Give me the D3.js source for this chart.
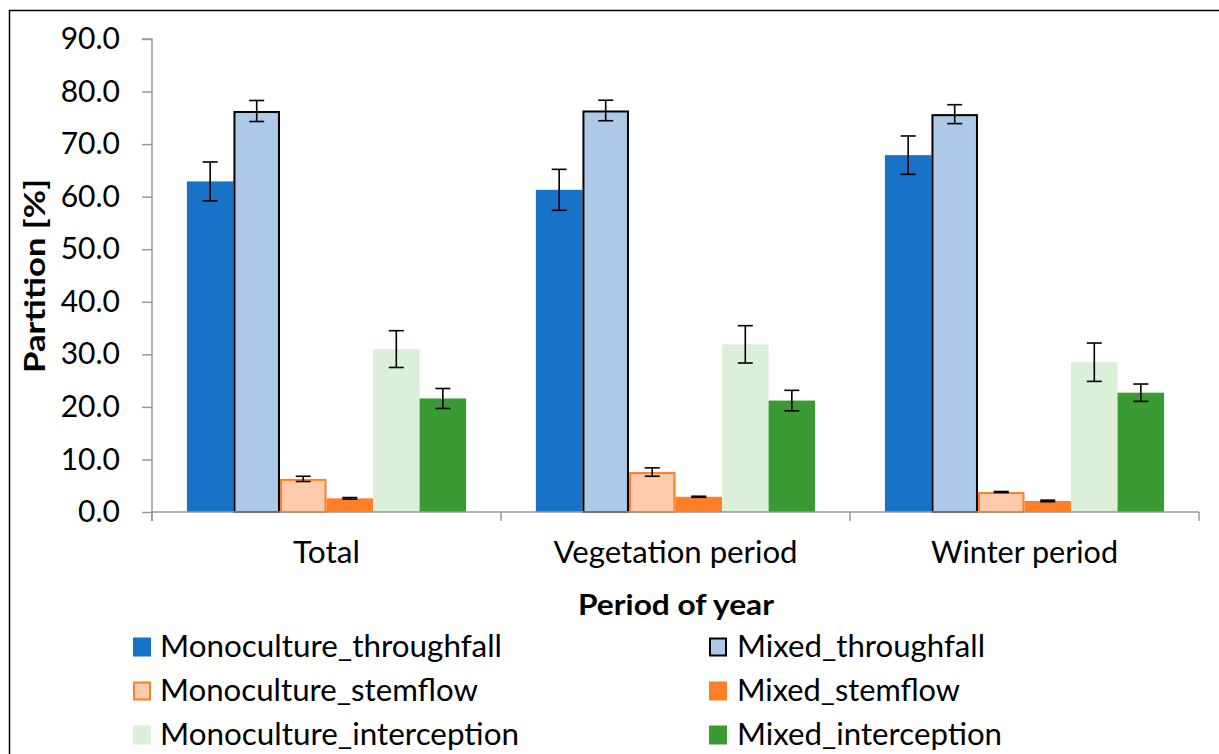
<!DOCTYPE html>
<html>
<head>
<meta charset="utf-8">
<script src="https://cdn.jsdelivr.net/npm/d3@7/dist/d3.min.js"></script>
<style>
  html, body { margin: 0; padding: 0; background: #fff; }
  svg { display: block; }
  text { font-family: Lato, "Open Sans", sans-serif; fill: #000; }
</style>
</head>
<body>
<svg id="chart" width="1219" height="754"></svg>
<script>
// Rainfall partition by period of year
const periods = ["Total", "Vegetation period", "Winter period"];
const seriesNames = [
  "Monoculture_throughfall", "Mixed_throughfall",
  "Monoculture_stemflow", "Mixed_stemflow",
  "Monoculture_interception", "Mixed_interception"
];
// mean values per series, ordered by period
const monoThroughfall = [62.9, 61.3, 67.9];
const mixedThroughfall = [76.3, 76.4, 75.7];
const monoStemflow = [6.3, 7.6, 3.8];
const mixedStemflow = [2.6, 2.9, 2.1];
const monoInterception = [31.0, 31.9, 28.5];
const mixedInterception = [21.6, 21.2, 22.7];
// error (± half-range) per series, ordered by period
const monoThroughfallErr = [3.7, 3.9, 3.65];
const mixedThroughfallErr = [2.0, 1.95, 1.8];
const monoStemflowErr = [0.5, 0.8, 0.1];
const mixedStemflowErr = [0.15, 0.1, 0.15];
const monoInterceptionErr = [3.5, 3.55, 3.65];
const mixedInterceptionErr = [1.9, 1.95, 1.65];
const yTicks = [0, 10, 20, 30, 40, 50, 60, 70, 80, 90];

const values = [monoThroughfall, mixedThroughfall, monoStemflow, mixedStemflow, monoInterception, mixedInterception];
const errors = [monoThroughfallErr, mixedThroughfallErr, monoStemflowErr, mixedStemflowErr, monoInterceptionErr, mixedInterceptionErr];

const styles = {
  "Monoculture_throughfall": { fill: "#1872C7", stroke: "none", sw: 0 },
  "Mixed_throughfall": { fill: "#AEC8E8", stroke: "#000", sw: 2 },
  "Monoculture_stemflow": { fill: "#FFCBAC", stroke: "#FF7F27", sw: 2 },
  "Mixed_stemflow": { fill: "#FF7F27", stroke: "none", sw: 0 },
  "Monoculture_interception": { fill: "#DCEFDA", stroke: "none", sw: 0 },
  "Mixed_interception": { fill: "#3A9A33", stroke: "none", sw: 0 }
};

const svg = d3.select("#chart");
const plot = { left: 152, right: 1199, top: 39, bottom: 512 };

// outer frame
svg.append("path")
  .attr("d", `M9.5,754 V10.5 H1219`)
  .attr("fill", "none").attr("stroke", "#000").attr("stroke-width", 1.5);

const x0 = d3.scaleBand().domain(periods).range([plot.left, plot.right]).padding(0);
const x1 = d3.scaleBand().domain(seriesNames).range([0, x0.bandwidth()]).paddingInner(0).paddingOuter(0.75);
const y = d3.scaleLinear().domain([0, 90]).range([plot.bottom, plot.top]);

// y axis
const yAxis = svg.append("g").attr("transform", `translate(${plot.left},0)`)
  .call(d3.axisLeft(y).tickValues(yTicks).tickSize(10).tickPadding(22).tickFormat(d3.format(".1f")));
yAxis.select(".domain").attr("stroke", "#999").attr("stroke-width", 1.5)
  .attr("d", `M-10,${plot.top}H0V${plot.bottom + 9}`);
yAxis.selectAll(".tick line").attr("stroke", "#999").attr("stroke-width", 1.5);
yAxis.selectAll(".tick text").attr("font-size", 30).attr("font-family", "Lato, sans-serif").attr("fill", "#000");

// bars
const groups = svg.append("g").selectAll("g").data(periods).join("g")
  .attr("transform", d => `translate(${x0(d)},0)`);

seriesNames.forEach((name, si) => {
  const st = styles[name];
  groups.append("rect")
    .attr("x", (d, pi) => x1(name) + st.sw / 2)
    .attr("width", x1.bandwidth() - st.sw)
    .attr("y", (d, pi) => y(values[si][pi]) + st.sw / 2)
    .attr("height", (d, pi) => y(0) - y(values[si][pi]) - st.sw / 2)
    .attr("fill", st.fill)
    .attr("stroke", st.stroke)
    .attr("stroke-width", st.sw);
});

// x axis (drawn above bar bottoms)
const xAxis = svg.append("g").attr("transform", `translate(0,${plot.bottom})`);
xAxis.append("line").attr("x1", plot.left).attr("x2", plot.right)
  .attr("stroke", "#999").attr("stroke-width", 1.5);
xAxis.selectAll(".sep").data([...periods.map(p => x0(p)), plot.right]).join("line")
  .attr("class", "sep")
  .attr("x1", d => d).attr("x2", d => d).attr("y1", 0).attr("y2", 9)
  .attr("stroke", "#999").attr("stroke-width", 1.5);
const labelWidths = { "Total": 67, "Vegetation period": 244, "Winter period": 187 };
xAxis.selectAll(".cat").data(periods).join("text")
  .attr("class", "cat")
  .attr("x", d => x0(d) + x0.bandwidth() / 2)
  .attr("y", 51)
  .attr("text-anchor", "middle")
  .attr("font-size", 30)
  .attr("textLength", d => labelWidths[d])
  .attr("lengthAdjust", "spacingAndGlyphs")
  .text(d => d);

// error bars
seriesNames.forEach((name, si) => {
  const eg = groups.append("g").attr("stroke", "#000").attr("stroke-width", 1.6);
  const cx = x1(name) + x1.bandwidth() / 2;
  eg.append("line")
    .attr("x1", cx).attr("x2", cx)
    .attr("y1", (d, pi) => y(values[si][pi] + errors[si][pi]))
    .attr("y2", (d, pi) => y(values[si][pi] - errors[si][pi]));
  [1, -1].forEach(sign => {
    eg.append("line")
      .attr("x1", cx - 7.5).attr("x2", cx + 7.5)
      .attr("y1", (d, pi) => y(values[si][pi] + sign * errors[si][pi]))
      .attr("y2", (d, pi) => y(values[si][pi] + sign * errors[si][pi]));
  });
});

// axis titles
svg.append("text")
  .attr("transform", `translate(45,276) rotate(-90)`)
  .attr("text-anchor", "middle")
  .attr("font-size", 28).attr("font-weight", "bold")
  .attr("textLength", 194).attr("lengthAdjust", "spacingAndGlyphs")
  .text("Partition [%]");

svg.append("text")
  .attr("x", 676).attr("y", 615)
  .attr("text-anchor", "middle")
  .attr("font-size", 28).attr("font-weight", "bold")
  .attr("textLength", 196).attr("lengthAdjust", "spacingAndGlyphs")
  .text("Period of year");

// legend
const legendWidths = {
  "Monoculture_throughfall": 342, "Mixed_throughfall": 248,
  "Monoculture_stemflow": 318, "Mixed_stemflow": 223,
  "Monoculture_interception": 359, "Mixed_interception": 265
};
const legend = svg.append("g");
seriesNames.forEach((name, i) => {
  const col = i % 2, row = Math.floor(i / 2);
  const st = styles[name];
  const sx = col === 0 ? 133 : 709;
  const tx = col === 0 ? 160 : 737;
  const cy = 647 + row * 44;
  const g = legend.append("g");
  g.append("rect")
    .attr("x", sx + st.sw / 2).attr("y", cy - 9.5 + st.sw / 2)
    .attr("width", 18 - st.sw).attr("height", 19 - st.sw)
    .attr("fill", st.fill).attr("stroke", st.stroke).attr("stroke-width", st.sw);
  g.append("text")
    .attr("x", tx).attr("y", cy + 10)
    .attr("font-size", 31)
    .attr("textLength", legendWidths[name])
    .attr("lengthAdjust", "spacingAndGlyphs")
    .text(name);
});
</script>
</body>
</html>
